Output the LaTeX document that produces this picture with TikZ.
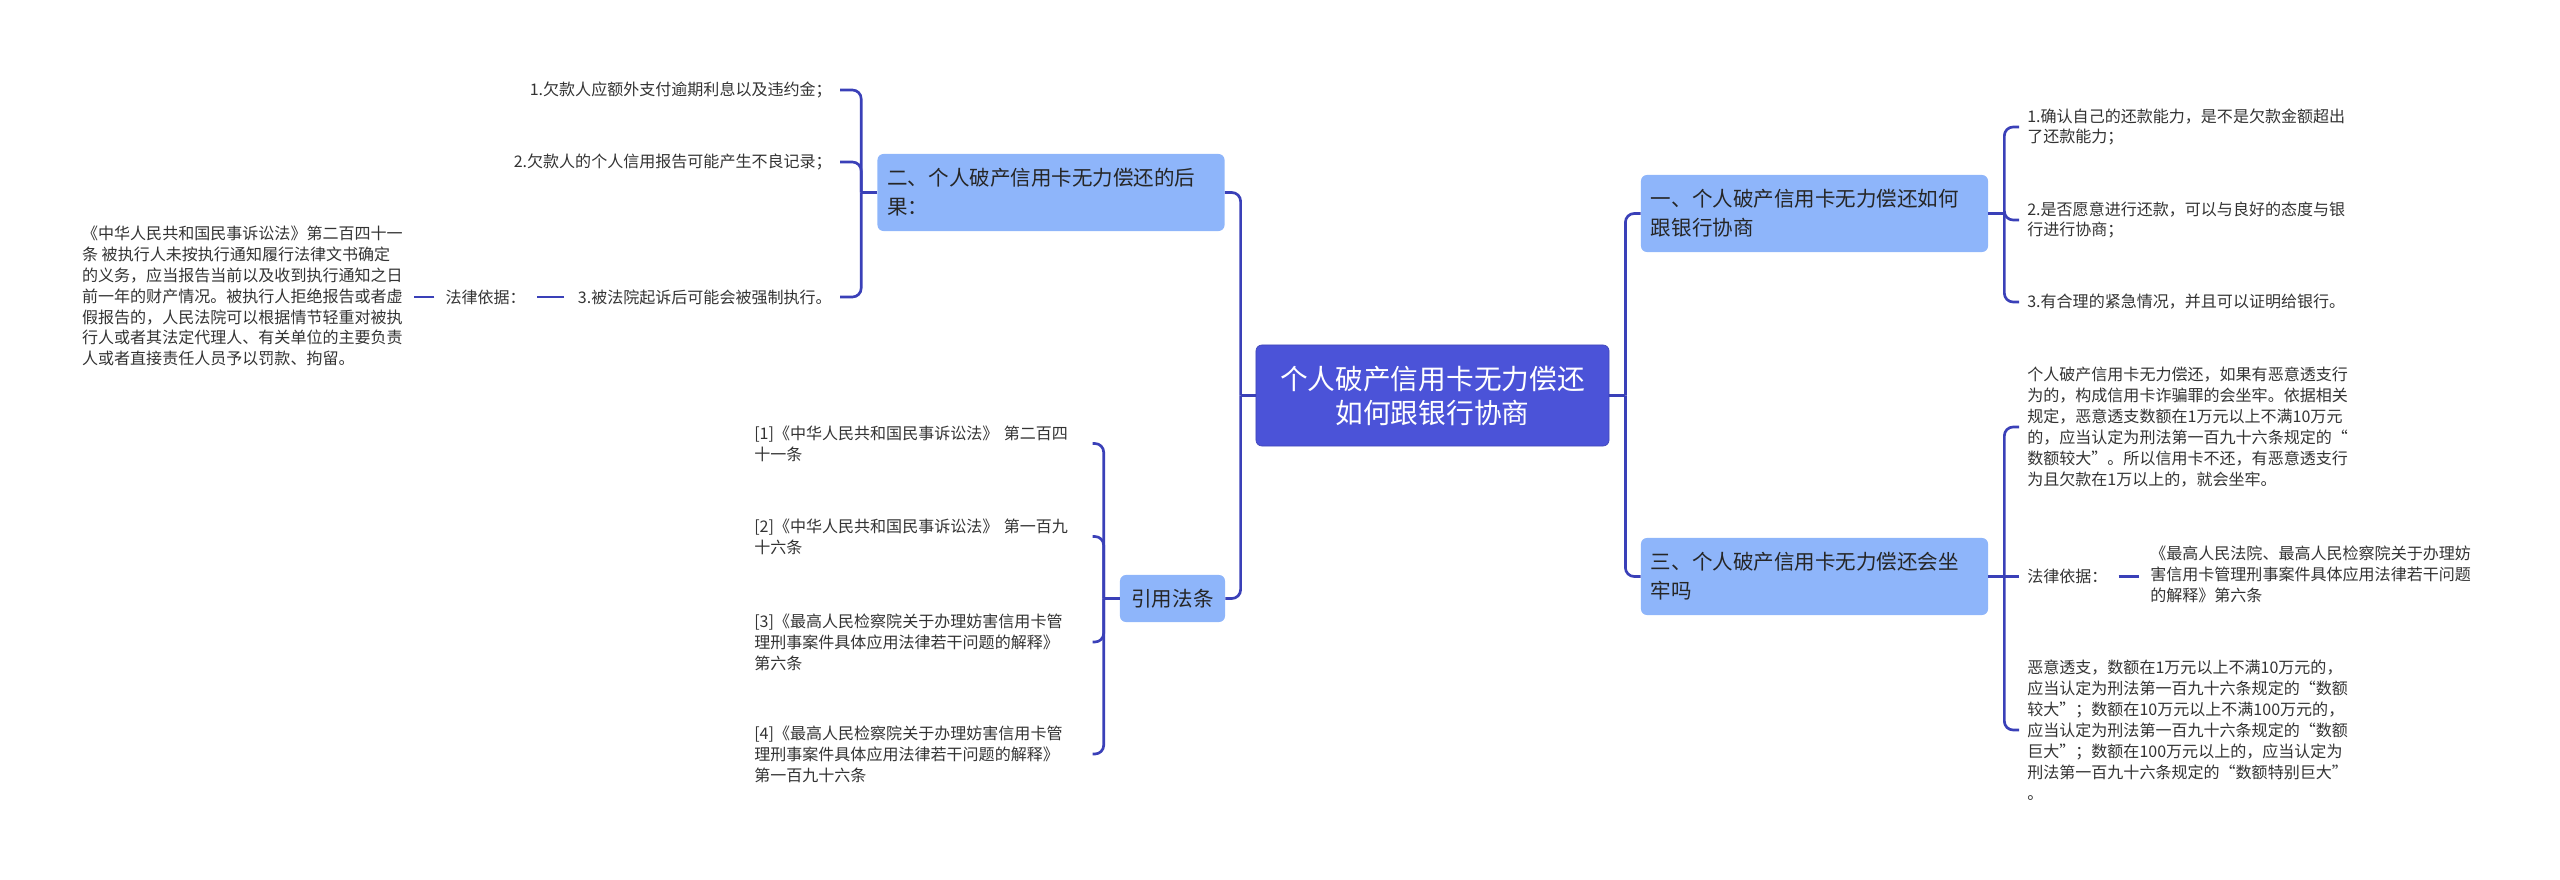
\documentclass[tikz,border=0pt]{standalone}
\usepackage{fontspec}
\setmainfont{Noto Sans CJK SC}
\usepackage{tikz}
\usetikzlibrary{calc, positioning}

\definecolor{rootblue}{HTML}{4B53D8}
\definecolor{topicblue}{HTML}{8EB5FA}
\definecolor{wireblue}{HTML}{3A40B8}
\definecolor{leafgray}{HTML}{333333}

\begin{document}
\begin{tikzpicture}[x=0.025cm, y=-0.025cm,
    wire/.style={draw=wireblue, line width=1.9pt},
    elbow/.style={wire, rounded corners=0.22cm},
    rootbox/.style={fill=rootblue, draw=rootblue!85!black, line width=0.5pt,
      rounded corners=0.15cm, text=white, align=center,
      font=\fontsize{19.7}{24.2}\selectfont,
      minimum width=8.825cm, minimum height=2.525cm},
    topic/.style={fill=topicblue, rounded corners=0.15cm, text=black!85,
      font=\fontsize{14.6}{20.6}\selectfont, align=left,
      text width=8.175cm, inner xsep=0.25cm, minimum height=1.925cm},
    reftopic/.style={fill=topicblue, rounded corners=0.15cm, text=black!85,
      font=\fontsize{14.6}{20.6}\selectfont, align=center,
      minimum width=2.625cm, minimum height=1.175cm},
    leaf/.style={text=leafgray, font=\fontsize{11.4}{14.9}\selectfont,
      inner xsep=0.2cm, inner ysep=0.05cm},
    refleaf/.style={leaf, align=left, text width=8.25cm, anchor=west}]
  \useasboundingbox (0,0) rectangle (2560,880);

  % central topic
  \node[rootbox] (root) at (1432.5,395.5) {个人破产信用卡无力偿还\\如何跟银行协商};

  % main branches
  \node[topic] (n1) at (1814.5,213.5) {一、个人破产信用卡无力偿还如何\\跟银行协商};
  \node[topic] (n3) at (1814.5,576.5) {三、个人破产信用卡无力偿还会坐\\牢吗};
  \node[topic] (n2) at (1051,192.5) {二、个人破产信用卡无力偿还的后\\果：};
  \node[reftopic] (ref) at (1172.5,598.5) {引用法条};

  % junctions
  \coordinate (jr) at ($(root.east)+(16,0)$);
  \coordinate (jl) at ($(root.west)+(-15,0)$);
  \coordinate (j1) at ($(n1.east)+(16,0)$);
  \coordinate (j3) at ($(n3.east)+(16,0)$);
  \coordinate (j2) at ($(n2.west)+(-16,0)$);
  \coordinate (jref) at ($(ref.west)+(-16,0)$);

  % leaves of branch one
  \node[leaf, anchor=west, align=left] (n1a) at (2019,127)
    {1.确认自己的还款能力，是不是欠款金额超出\\了还款能力；};
  \node[leaf, anchor=west, align=left] (n1b) at (2019,220)
    {2.是否愿意进行还款，可以与良好的态度与银\\行进行协商；};
  \node[leaf, anchor=west, align=left] (n1c) at (2019,302)
    {3.有合理的紧急情况，并且可以证明给银行。};

  % leaves of branch three
  \node[leaf, anchor=west, align=left] (n3a) at (2019,427)
    {个人破产信用卡无力偿还，如果有恶意透支行\\为的，构成信用卡诈骗罪的会坐牢。依据相关\\规定，恶意透支数额在1万元以上不满10万元\\的，应当认定为刑法第一百九十六条规定的“\\数额较大”。所以信用卡不还，有恶意透支行\\为且欠款在1万以上的，就会坐牢。};
  \node[leaf, anchor=west] (n3b) at (2019,576.5) {法律依据：};
  \node[leaf, anchor=west, align=left] (n3law) at (2142,574)
    {《最高人民法院、最高人民检察院关于办理妨\\害信用卡管理刑事案件具体应用法律若干问题\\的解释》第六条};
  \node[leaf, anchor=west, align=left] (n3c) at (2019,730)
    {恶意透支，数额在1万元以上不满10万元的，\\应当认定为刑法第一百九十六条规定的“数额\\较大”；数额在10万元以上不满100万元的，\\应当认定为刑法第一百九十六条规定的“数额\\巨大”；数额在100万元以上的，应当认定为\\刑法第一百九十六条规定的“数额特别巨大”\\。};

  % leaves of branch two
  \node[leaf, anchor=east, align=right] (n2a) at (840,90) {1.欠款人应额外支付逾期利息以及违约金；};
  \node[leaf, anchor=east, align=right] (n2b) at (840,162) {2.欠款人的个人信用报告可能产生不良记录；};
  \node[leaf, anchor=east, align=right] (n2c) at (840,297) {3.被法院起诉后可能会被强制执行。};
  \node[leaf, anchor=east] (n2law) at (534,297) {法律依据：};
  \node[leaf, anchor=east, align=left] (n2text) at (411,296)
    {《中华人民共和国民事诉讼法》第二百四十一\\条 被执行人未按执行通知履行法律文书确定\\的义务，应当报告当前以及收到执行通知之日\\前一年的财产情况。被执行人拒绝报告或者虚\\假报告的，人民法院可以根据情节轻重对被执\\行人或者其法定代理人、有关单位的主要负责\\人或者直接责任人员予以罚款、拘留。};

  % cited articles
  \node[refleaf] (r1) at (746,443.5) {[1]《中华人民共和国民事诉讼法》 第二百四\\十一条};
  \node[refleaf] (r2) at (746,536.5) {[2]《中华人民共和国民事诉讼法》 第一百九\\十六条};
  \node[refleaf] (r3) at (746,642) {[3]《最高人民检察院关于办理妨害信用卡管\\理刑事案件具体应用法律若干问题的解释》\\第六条};
  \node[refleaf] (r4) at (746,754) {[4]《最高人民检察院关于办理妨害信用卡管\\理刑事案件具体应用法律若干问题的解释》\\第一百九十六条};

  % connectors
  \draw[wire] (root.east) -- (jr);
  \draw[wire] (root.west) -- (jl);
  \foreach \c in {n1, n3}
    \draw[elbow] (jr) |- (\c.west);
  \foreach \c in {n2, ref}
    \draw[elbow] (jl) |- (\c.east);
  \draw[wire] (n1.east) -- (j1);
  \foreach \c in {n1a, n1b, n1c}
    \draw[elbow] (j1) |- (\c.west);
  \draw[wire] (n3.east) -- (j3);
  \foreach \c in {n3a, n3c}
    \draw[elbow] (j3) |- (\c.west);
  \draw[wire] (j3) -- (n3b.west);
  \draw[wire, shorten <=2pt, shorten >=2pt] (n3b.east) -- (n3b.east -| n3law.west);
  \draw[wire] (n2.west) -- (j2);
  \foreach \c in {n2a, n2b, n2c}
    \draw[elbow] (j2) |- (\c.east);
  \draw[wire, shorten <=4pt, shorten >=2pt] (n2c.west) -- (n2law.east);
  \draw[wire, shorten <=2pt, shorten >=2pt] (n2law.west) -- (n2law.west -| n2text.east);
  \draw[wire] (ref.west) -- (jref);
  \foreach \c in {r1, r2, r3, r4}
    \draw[elbow] (jref) |- (\c.east);
\end{tikzpicture}
\end{document}
